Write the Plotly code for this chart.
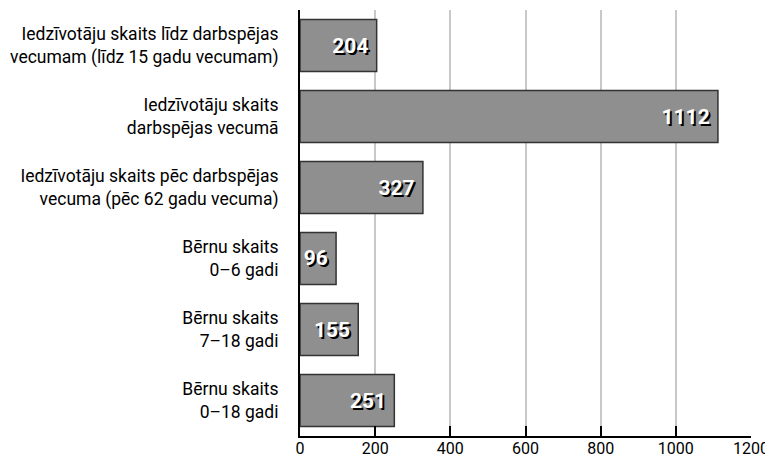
import plotly.graph_objects as go

categories = [
    "Iedzīvotāju skaits līdz darbspējas<br>vecumam (līdz 15 gadu vecumam)",
    "Iedzīvotāju skaits<br>darbspējas vecumā",
    "Iedzīvotāju skaits pēc darbspējas<br>vecuma (pēc 62 gadu vecuma)",
    "Bērnu skaits<br>0–6 gadi",
    "Bērnu skaits<br>7–18 gadi",
    "Bērnu skaits<br>0–18 gadi",
]
values = [204, 1112, 327, 96, 155, 251]
x_ticks = [0, 200, 400, 600, 800, 1000, 1200]

FONT = "Roboto, Liberation Sans, sans-serif"

fig = go.Figure(go.Bar(
    x=values,
    y=categories,
    orientation="h",
    marker=dict(color="#8f8f8f", line=dict(color="#333333", width=1.5)),
    text=[str(v) + "\u00a0" for v in values],
    textposition="inside",
    insidetextanchor="end",
    textangle=0,
    textfont=dict(family=FONT, size=21, color="white", weight="bold",
                  shadow="2px 2px 0px black"),
    width=0.73,
    cliponaxis=False,
))

fig.update_layout(
    width=765, height=450,
    margin=dict(l=292, r=22, t=2, b=22, autoexpand=False),
    paper_bgcolor="white",
    plot_bgcolor="white",
    showlegend=False,
    font=dict(family=FONT, size=17.5, color="black"),
    xaxis=dict(
        range=[0, 1200],
        tickvals=x_ticks,
        ticktext=[str(t) for t in x_ticks],
        ticks="inside", ticklen=10, tickwidth=2, tickcolor="black",
        showgrid=True, gridcolor="#c8c8c8", gridwidth=1.5,
        showline=True, linecolor="black", linewidth=2,
        zeroline=False,
        tickfont=dict(family=FONT, size=16),
        ticklabelstandoff=-3,
        automargin=False,
    ),
    yaxis=dict(
        autorange="reversed",
        showline=True, linecolor="black", linewidth=2,
        ticks="", showgrid=False,
        ticklabelstandoff=16,
        automargin=False,
    ),
)

fig.write_html("out.html")
